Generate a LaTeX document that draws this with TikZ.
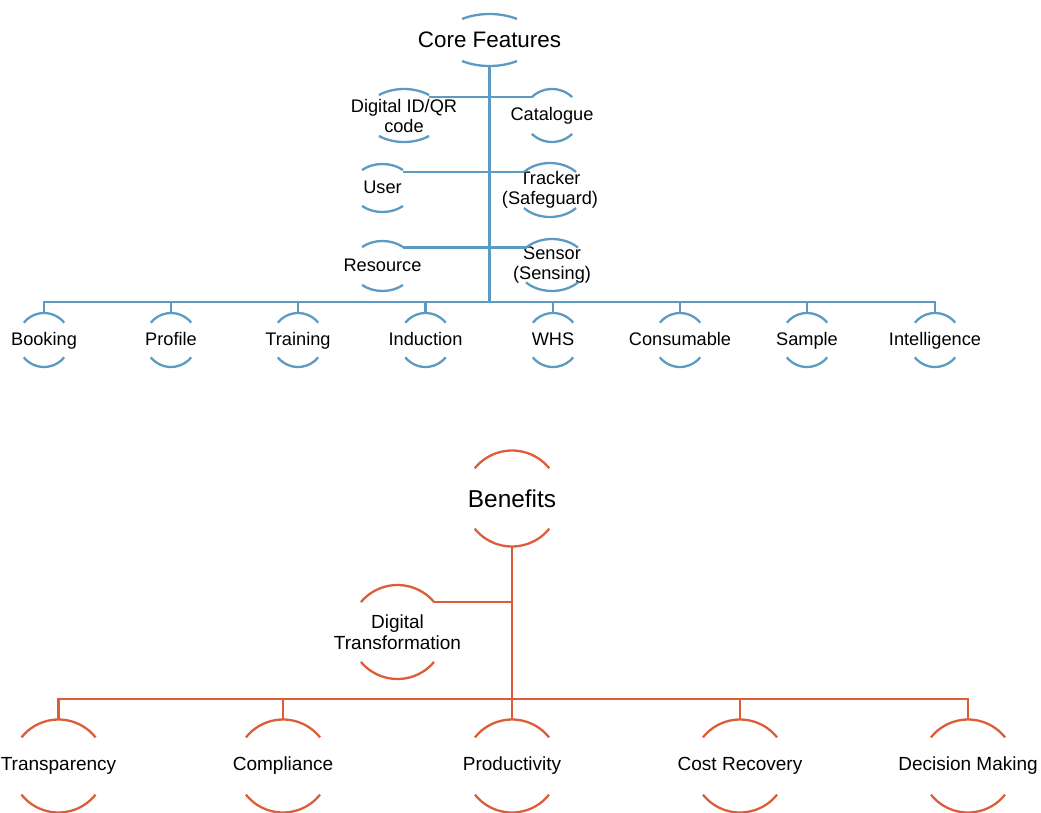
\documentclass[tikz,border=0pt]{standalone}
\usepackage{fontspec}
\setmainfont{Liberation Sans}
\usetikzlibrary{calc}
\definecolor{cfblue}{HTML}{5B9AC2}
\definecolor{bnorange}{HTML}{DD5D38}
\tikzset{
  arcline/.style={line width=2.3pt},
  lbl/.style={inner sep=0pt, align=center, font=\fontsize{18.2}{20}\selectfont},
  one/.style={text height=14pt, text depth=4pt},
  olbl/.style={inner sep=0pt, align=center, font=\fontsize{19}{21}\selectfont},
  bconn/.style={cfblue, line width=2.3pt},
  oconn/.style={bnorange, line width=2.4pt},
}
% #1 name, #2 x radius, #3 y radius, #4 end angle, #5 colour
\newcommand\arcsof[5]{%
  \coordinate (#1-ne) at ([shift={(#4:#2 and #3)}]#1.center);
  \coordinate (#1-nw) at ([shift={(180-#4:#2 and #3)}]#1.center);
  \coordinate (#1-n) at ([shift={(0,#3)}]#1.center);
  \coordinate (#1-s) at ([shift={(0,-#3)}]#1.center);
  \draw[arcline,#5] (#1-ne) arc[start angle=#4, end angle=180-#4, x radius=#2, y radius=#3];
  \draw[arcline,#5] ([shift={(180+#4:#2 and #3)}]#1.center) arc[start angle=180+#4, end angle=360-#4, x radius=#2, y radius=#3];
}
\begin{document}
\begin{tikzpicture}[x=1pt,y=1pt]
\useasboundingbox (0,0) rectangle (1041,-812);
% ---------- Core features ----------
\node[lbl, font=\fontsize{22.4}{24}\selectfont] (cf) at (489.5,-40) {Core Features};
\node[lbl] (did) at (404,-115.5) {Digital ID/QR\\code};
\node[lbl, one] (cat) at (552,-115.5) {Catalogue};
\node[lbl, one] (usr) at (382.5,-188) {User};
\node[lbl] (trk) at (550,-190) {Tracker\\(Safeguard)};
\node[lbl, one] (res) at (382.5,-266) {Resource};
\node[lbl] (sen) at (552,-265) {Sensor\\(Sensing)};
\node[lbl, one] (bk) at (44,-340) {Booking};
\node[lbl, one] (pf) at (171,-340) {Profile};
\node[lbl, one] (tr) at (298,-340) {Training};
\node[lbl, one] (ind) at (425.5,-340) {Induction};
\node[lbl, one] (whs) at (553,-340) {WHS};
\node[lbl, one] (con) at (680,-340) {Consumable};
\node[lbl, one] (smp) at (807,-340) {Sample};
\node[lbl, one] (itl) at (935,-340) {Intelligence};

\arcsof{cf}{46.6}{26}{54}{cfblue}
\arcsof{did}{39.4}{26.5}{50.6}{cfblue}
\arcsof{cat}{28}{26.5}{44}{cfblue}
\arcsof{usr}{31}{24}{48.6}{cfblue}
\arcsof{trk}{35}{27}{42}{cfblue}
\arcsof{res}{31.5}{25}{49.5}{cfblue}
\arcsof{sen}{35}{26}{42}{cfblue}
\foreach \n in {bk,pf,tr,ind,whs,con,smp,itl}{\arcsof{\n}{26.4}{27}{40}{cfblue}}

\coordinate (cfj) at (489.5,-302);
\draw[bconn, line width=3pt] (cf-s) -- (cfj);
\draw[bconn] (bk-n) -- (bk-n |- cfj) -- (itl-n |- cfj) -- (itl-n);
\foreach \n in {pf,tr,ind,whs,con,smp}{\draw[bconn] (\n-n) -- (\n-n |- cfj);}
\draw[bconn] (did-ne |- cat-nw) -- (cat-nw);
\draw[bconn] (usr-ne |- trk-nw) -- (trk-nw);
\draw[bconn] (res-ne |- sen-nw) -- (sen-nw);

% ---------- Benefits ----------
\node[olbl, font=\fontsize{24.4}{26}\selectfont] (bn) at (512,-498.5) {Benefits};
\node[olbl] (dt) at (397.5,-632) {Digital\\Transformation};
\node[olbl] (tp) at (58.5,-766) {Transparency};
\node[olbl] (cp) at (283,-766) {Compliance};
\node[olbl] (pr) at (512,-766) {Productivity};
\node[olbl] (cr) at (740,-766) {Cost Recovery};
\node[olbl] (dm) at (968,-766) {Decision Making};

\arcsof{bn}{48}{48}{39}{bnorange}
\arcsof{dt}{47.4}{47}{39.5}{bnorange}
\foreach \n in {tp,cp,pr,cr,dm}{\arcsof{\n}{47}{46.5}{38}{bnorange}}

\coordinate (bnj) at (512,-699);
\draw[oconn] (bn-s) -- (bnj);
\draw[oconn] (tp-n) -- (tp-n |- bnj) -- (dm-n |- bnj) -- (dm-n);
\foreach \n in {cp,pr,cr}{\draw[oconn] (\n-n) -- (\n-n |- bnj);}
\draw[oconn] (dt-ne) -- (dt-ne -| bn.center);
\end{tikzpicture}
\end{document}
